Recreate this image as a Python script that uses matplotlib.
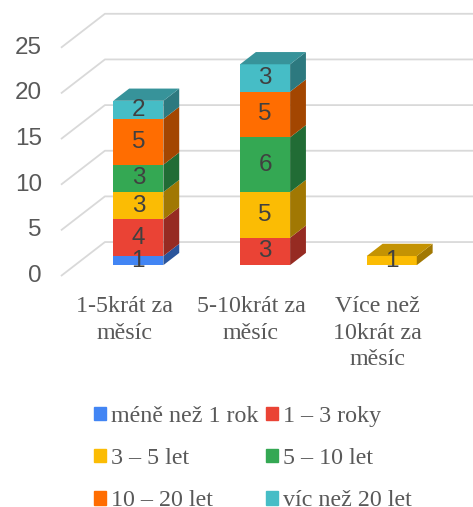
import numpy as np
import matplotlib
matplotlib.use("Agg")
import matplotlib.pyplot as plt
from matplotlib.patches import Polygon, Patch
from matplotlib.colors import to_rgb

categories = ["1-5krát za\nměsíc", "5-10krát za\nměsíc", "Více než\n10krát za\nměsíc"]
series_names = ["méně než 1 rok", "1 – 3 roky", "3 – 5 let", "5 – 10 let", "10 – 20 let", "víc než 20 let"]
less_1 = [1, 0, 0]
y1_3 = [4, 3, 0]
y3_5 = [3, 5, 1]
y5_10 = [3, 6, 0]
y10_20 = [5, 5, 0]
over_20 = [2, 3, 0]
series = [less_1, y1_3, y3_5, y5_10, y10_20, over_20]
colors = ["#4285F4", "#EA4335", "#FBBC04", "#34A853", "#FF6D01", "#46BDC6"]
yticks = [0, 5, 10, 15, 20, 25]

# oblique projection: full depth of the plot box in data units
DX, DV = 0.347, 3.72
T0, T1 = 0.32, 0.68          # bar front / back depth
WIDTH = 0.395
GRID = "#d9d9d9"
TXT = "#595959"

fig = plt.figure(figsize=(4.73, 5.07), dpi=100)
ax = fig.add_axes([0, 0, 1, 1])
ax.set_xlim(-0.981, 2.752)
ax.set_ylim(-25.3, 30.23)
ax.axis("off")

# side wall diagonals + back wall gridlines
for v in yticks:
    ax.plot([-0.5, -0.5 + DX, 2.752], [v, v + DV, v + DV], color=GRID, lw=1.3,
            zorder=1, solid_capstyle="butt")
    ax.text(-0.65, v, str(v), ha="right", va="center", fontsize=17.5,
            family="Liberation Sans", color=TXT)

x = np.arange(len(categories))
xf = x + T0 * DX
ddx, ddv = (T1 - T0) * DX, (T1 - T0) * DV
bottom = np.zeros(len(categories))
totals = np.sum(series, axis=0)
for vals, col in zip(series, colors):
    vals = np.array(vals, dtype=float)
    rgb = np.array(to_rgb(col))
    side, top = rgb * 0.64, rgb * 0.78
    bars = ax.bar(xf, vals, WIDTH, bottom=bottom + T0 * DV, color=col, zorder=3)
    ax.bar_label(bars, labels=[f"{int(v)}" if v else "" for v in vals],
                 label_type="center", fontsize=17.5, family="Liberation Sans",
                 color="#404040", zorder=6)
    for i, h in enumerate(vals):
        if h == 0:
            continue
        xr = xf[i] + WIDTH / 2
        xl = xf[i] - WIDTH / 2
        b0 = bottom[i] + T0 * DV
        ax.add_patch(Polygon([(xr, b0), (xr + ddx, b0 + ddv), (xr + ddx, b0 + h + ddv),
                              (xr, b0 + h)], closed=True, color=side, lw=0, zorder=4))
        if bottom[i] + h == totals[i]:
            t = b0 + h
            ax.add_patch(Polygon([(xl, t), (xr, t), (xr + ddx, t + ddv), (xl + ddx, t + ddv)],
                                 closed=True, color=top, lw=0, zorder=4))
    bottom += vals

for i, c in enumerate(categories):
    ax.text(i, -2.2, c, ha="center", va="top", multialignment="center",
            fontsize=17.3, family="Liberation Serif", color=TXT, linespacing=1.35)

handles = [Patch(color=c, label=n) for c, n in zip(colors, series_names)]
order = [0, 2, 4, 1, 3, 5]
fig.legend([handles[k] for k in order], [series_names[k] for k in order], ncol=2,
           loc="upper left", bbox_to_anchor=(94 / 473, 1 - 406 / 507), frameon=False,
           borderpad=0, borderaxespad=0, handlelength=0.5, handleheight=0.5,
           handletextpad=0.22, columnspacing=0.3, labelspacing=0.88,
           prop={"family": "Liberation Serif", "size": 17.3}, labelcolor=TXT)

fig.savefig("out.png", dpi=100)
